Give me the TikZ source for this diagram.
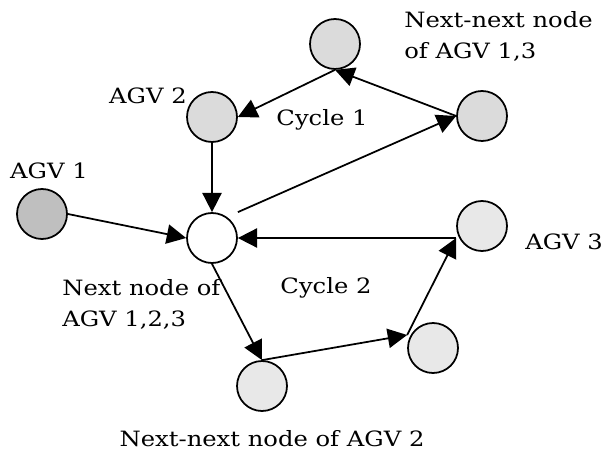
\documentclass[tikz,border=0pt]{standalone}
\usepackage{fontspec}
\setmainfont{DejaVu Serif}[FakeStretch=1.15]
\usetikzlibrary{arrows.meta}

\definecolor{agvdark}{gray}{0.75}
\definecolor{cycleone}{gray}{0.86}
\definecolor{cycletwo}{gray}{0.91}

\begin{document}
\begin{tikzpicture}[x=0.02cm, y=-0.02cm,
    spot/.style={circle, draw, line width=1pt, minimum size=1cm, inner sep=0pt},
    link/.style={-{Triangle[length=11pt,width=11pt]}, line width=1pt},
    lbl/.style={font=\fontsize{12}{17.6}\selectfont, inner sep=0pt}]
    \useasboundingbox (0,0) rectangle (604,452);

    % nodes of cycle 1
    \node[spot, fill=cycleone] (top) at (335,44) {};
    \node[spot, fill=cycleone] (agvtwo) at (212,117) {};
    \node[spot, fill=cycleone] (upright) at (482,116) {};
    % shared node and AGV 1
    \node[spot, fill=agvdark] (agvone) at (42,214) {};
    \node[spot, fill=white] (hub) at (212,238) {};
    % nodes of cycle 2
    \node[spot, fill=cycletwo] (agvthree) at (482,226) {};
    \node[spot, fill=cycletwo] (lowright) at (433,348) {};
    \node[spot, fill=cycletwo] (bottom) at (262,386) {};

    \draw[link] (top.south) -- (agvtwo.east);
    \draw[link] (upright.west) -- (top.south);
    \draw[link] (hub.north -| hub.east) -- (upright.west);
    \draw[link] (agvtwo.south) -- (hub.north);
    \draw[link] (agvone.east) -- (hub.west);
    \draw[link] (agvthree.west |- hub.east) -- (hub.east);
    \draw[link] (hub.south) -- (bottom.north);
    \draw[link] (bottom.north) -- ([yshift=0.26cm]lowright.west);
    \draw[link] ([yshift=0.26cm]lowright.west) -- (agvthree.west |- hub.east);

    \node[lbl, anchor=west, align=left] (nnlabel) at (404,36) {Next-next node\\of AGV 1,3};
    \node[lbl] (agvtwolabel) at (148,96) {AGV 2};
    \node[lbl] (cycleonelabel) at (322,120) {Cycle 1};
    \node[lbl] (agvonelabel) at (49,171) {AGV 1};
    \node[lbl, anchor=west, align=left] (nextlabel) at (62,304) {Next node of\\AGV 1,2,3};
    \node[lbl] (cycletwolabel) at (326,288) {Cycle 2};
    \node[lbl, anchor=west] (agvthreelabel) at (525,242) {AGV 3};
    \node[lbl] (bottomlabel) at (272,439) {Next-next node of AGV 2};
\end{tikzpicture}
\end{document}
